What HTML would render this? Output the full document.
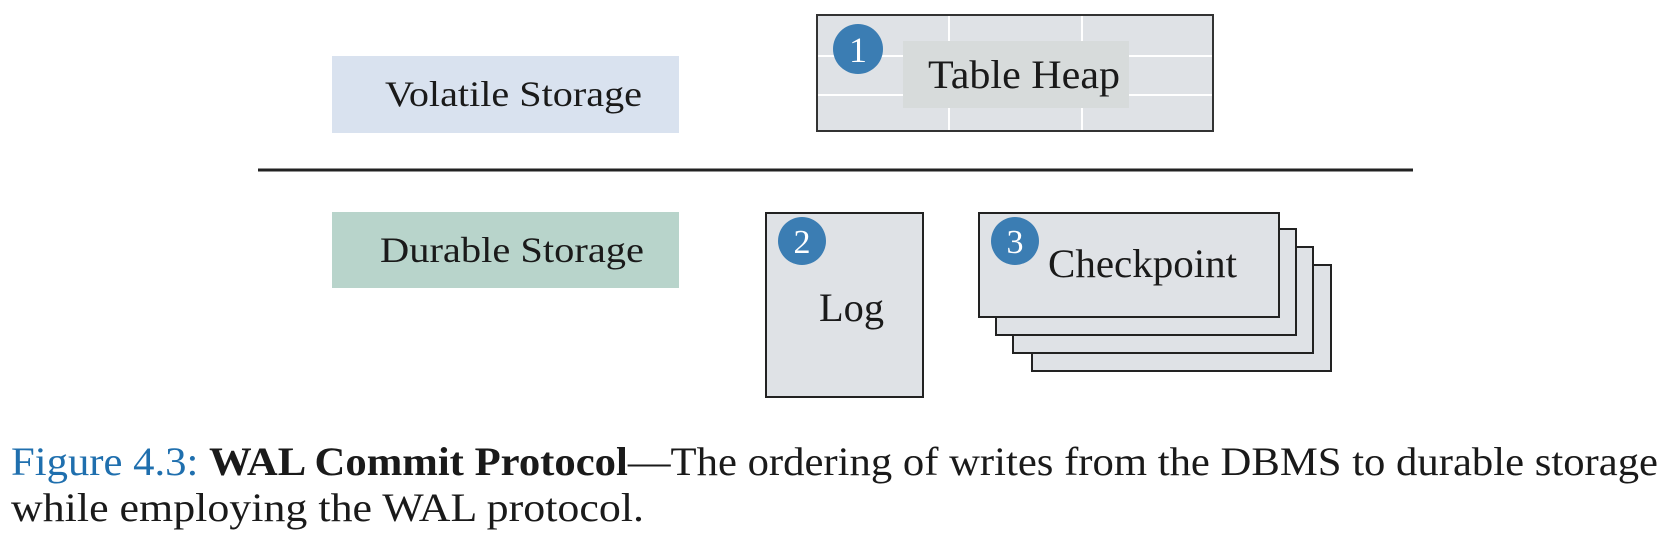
<!DOCTYPE html>
<html><head><meta charset="utf-8"><style>
html,body{margin:0;padding:0;background:#fff;}
svg{display:block;}
text{font-family:"Liberation Serif",serif;fill:#1a1a1a;}
</style></head><body>
<svg width="1667" height="550" viewBox="0 0 1667 550" xmlns="http://www.w3.org/2000/svg">
<rect x="332" y="56" width="347" height="77" fill="#d9e2ef"/>
<text x="385" y="106" font-size="36" textLength="257" lengthAdjust="spacingAndGlyphs">Volatile Storage</text>
<rect x="332" y="212" width="347" height="76" fill="#b8d4cb"/>
<text x="380" y="262" font-size="36" textLength="264" lengthAdjust="spacingAndGlyphs">Durable Storage</text>
<line x1="258" y1="170" x2="1413" y2="170" stroke="#222" stroke-width="3"/>
<!-- Table heap -->
<rect x="817" y="15" width="396" height="116" fill="#dfe2e6" stroke="#333" stroke-width="2"/>
<g stroke="#fff" stroke-width="2">
<line x1="949" y1="16" x2="949" y2="130"/><line x1="1082" y1="16" x2="1082" y2="130"/>
<line x1="818" y1="56" x2="1212" y2="56"/><line x1="818" y1="95" x2="1212" y2="95"/>
</g>
<rect x="903" y="41" width="226" height="67" fill="#d7dbdb"/>
<text x="928" y="88" font-size="40" textLength="192" lengthAdjust="spacingAndGlyphs">Table Heap</text>
<circle cx="858" cy="49" r="25" fill="#3b7db3"/>
<text x="858" y="62" font-size="36" text-anchor="middle" style="fill:#fff">1</text>
<!-- Log -->
<rect x="766" y="213" width="157" height="184" fill="#dfe2e6" stroke="#222" stroke-width="2"/>
<circle cx="802" cy="241" r="24" fill="#3b7db3"/>
<text x="802" y="253" font-size="34" text-anchor="middle" style="fill:#fff">2</text>
<text x="819" y="321" font-size="40" textLength="65" lengthAdjust="spacingAndGlyphs">Log</text>
<!-- Checkpoint stack -->
<rect x="1032" y="265" width="299" height="106" fill="#dfe2e6" stroke="#222" stroke-width="2"/>
<rect x="1013" y="247" width="300" height="106" fill="#dfe2e6" stroke="#222" stroke-width="2"/>
<rect x="996" y="229" width="300" height="106" fill="#dfe2e6" stroke="#222" stroke-width="2"/>
<rect x="979" y="213" width="300" height="104" fill="#dfe2e6" stroke="#222" stroke-width="2"/>
<circle cx="1015" cy="241" r="24" fill="#3b7db3"/>
<text x="1015" y="253" font-size="34" text-anchor="middle" style="fill:#fff">3</text>
<text x="1048" y="277" font-size="40" textLength="189" lengthAdjust="spacingAndGlyphs">Checkpoint</text>
<!-- Caption -->
<text x="11" y="475" font-size="40" textLength="1647" lengthAdjust="spacingAndGlyphs"><tspan style="fill:#1f6fae">Figure 4.3: </tspan><tspan font-weight="bold">WAL Commit Protocol</tspan>—The ordering of writes from the DBMS to durable storage</text>
<text x="11" y="521" font-size="40" textLength="633" lengthAdjust="spacingAndGlyphs">while employing the WAL protocol.</text>
</svg>
</body></html>
